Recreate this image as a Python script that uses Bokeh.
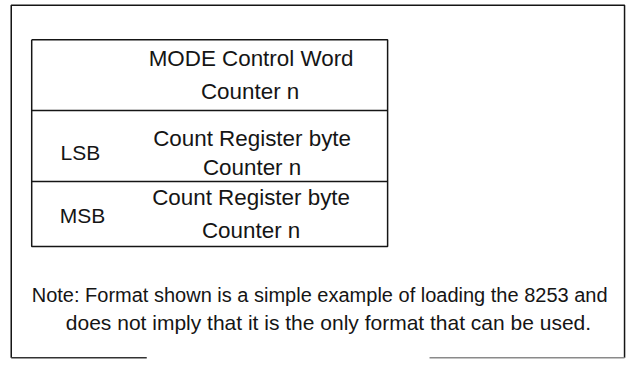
from bokeh.plotting import figure
from bokeh.models import Range1d
from bokeh.embed import file_html
from bokeh.resources import INLINE
from bokeh.core.properties import value

# ---- content ----
row_left_labels = ["", "LSB", "MSB"]
row_line1 = ["MODE Control Word", "Count Register byte", "Count Register byte"]
row_line2 = ["Counter n", "Counter n", "Counter n"]
note_lines = ["Note: Format shown is a simple example of loading the 8253 and",
              "does not imply that it is the only format that can be used."]

# ---- layout (reference-image pixel coordinates, y downward) ----
frame_left, frame_top, frame_right, frame_bottom = 11, 5, 640, 373
bottom_segments = [(11, 150), (440, 640)]
bottom_colors = ["#333333", "#8a8a8a"]
table_x = [32, 397]
table_y = [41, 115, 189, 257]          # top, separators, bottom
label_x = [82, 82, 84]
label_mid = [0, 159, 224.5]
line1_x = [257, 258, 257]
line1_mid = [61, 144, 205.5]
line2_x = [256, 258, 257]
line2_mid = [95, 174, 240.5]
note_x = [32, 67]
note_mid = [307.5, 336.5]
note_size = ["20px", "21px"]

FONT = value("Liberation Sans")
INK = "#151515"

p = figure(width=626, height=361, output_backend="svg", toolbar_location=None,
           x_range=Range1d(0, 642), y_range=Range1d(377, 0),
           min_border=0)
p.axis.visible = False
p.grid.visible = False
p.outline_line_color = None
p.background_fill_color = "white"
p.border_fill_color = "white"

# outer frame (bottom edge is broken in the scan)
p.line(x=[frame_left, frame_left, frame_right, frame_right],
       y=[frame_bottom, frame_top, frame_top, frame_bottom],
       line_color=INK, line_width=1.5)
for (a, bb), c in zip(bottom_segments, bottom_colors):
    p.line(x=[a, bb], y=[frame_bottom, frame_bottom], line_color=c, line_width=1.5)

# table
x0, x1 = table_x
p.line(x=[x0, x1, x1, x0, x0], y=[table_y[0], table_y[0], table_y[-1], table_y[-1], table_y[0]],
       line_color=INK, line_width=1.5)
for yy in table_y[1:-1]:
    p.line(x=[x0, x1], y=[yy, yy], line_color=INK, line_width=1.5)

# table texts
p.text(x=line1_x, y=line1_mid, text=row_line1, text_font=FONT, text_font_size="22.4px",
       text_align="center", text_baseline="middle", text_color=INK)
p.text(x=line2_x, y=line2_mid, text=row_line2, text_font=FONT, text_font_size="22.4px",
       text_align="center", text_baseline="middle", text_color=INK)
lab = [(x, y, s) for x, y, s in zip(label_x, label_mid, row_left_labels) if s]
p.text(x=[a[0] for a in lab], y=[a[1] for a in lab], text=[a[2] for a in lab],
       text_font=FONT, text_font_size="21px", text_align="center",
       text_baseline="middle", text_color=INK)

# note
for x, y, s, fs in zip(note_x, note_mid, note_lines, note_size):
    p.text(x=[x], y=[y], text=[s], text_font=FONT, text_font_size=fs,
           text_align="left", text_baseline="middle", text_color=INK)

open("out.html", "w").write(file_html(p, INLINE))
